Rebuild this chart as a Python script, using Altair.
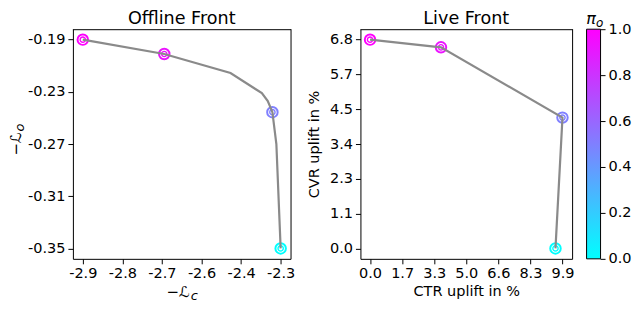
import json
import altair as alt
import pandas as pd

FONT = "DejaVu Sans"

# ---------------- data ----------------
# Offline front: full line path and the marked points
off_line_x = [-2.900, -2.653, -2.452, -2.357, -2.339, -2.325, -2.313, -2.300]
off_line_y = [-0.190, -0.201, -0.2156, -0.231, -0.237, -0.2456, -0.270, -0.350]
off_pts_x = [-2.900, -2.653, -2.325, -2.300]
off_pts_y = [-0.190, -0.201, -0.2456, -0.350]
pi_o = [1.0, 0.92, 0.5, 0.0]

# Live front
live_x = [0.0, 3.65, 9.90, 9.54]
live_y = [6.80, 6.55, 4.26, 0.00]

# tick positions and labels
off_xticks = [-2.90, -2.78, -2.66, -2.54, -2.42, -2.30]
off_xlabels = ["-2.9", "-2.8", "-2.7", "-2.6", "-2.4", "-2.3"]
off_yticks = [-0.35, -0.31, -0.27, -0.23, -0.19]
off_ylabels = ["-0.35", "-0.31", "-0.27", "-0.23", "-0.19"]
live_xticks = [0.0, 1.65, 3.3, 4.95, 6.6, 8.25, 9.9]
live_xlabels = ["0.0", "1.7", "3.3", "5.0", "6.6", "8.3", "9.9"]
live_yticks = [0.0, 1.1333, 2.2667, 3.4, 4.5333, 5.6667, 6.8]
live_ylabels = ["0.0", "1.1", "2.3", "3.4", "4.5", "5.7", "6.8"]
cb_ticks = [0.0, 0.2, 0.4, 0.6, 0.8, 1.0]
cb_labels = ["0.0", "0.2", "0.4", "0.6", "0.8", "1.0"]

titles = ["Offline Front", "Live Front"]
cb_title_main = "π"
cb_title_sub = "o"
live_xtitle = "CTR uplift in %"
live_ytitle = "CVR uplift in %"
off_title_main = "−ℒ"
off_xtitle_sub = "c"
off_ytitle_sub = "o"

# ---------------- layout ----------------
H = 230
WL, WR, WC = 218, 212, 14
LINE_COLOR = "#8a8a8a"
CMAP = ["#00ffff", "#ff00ff"]
TFS = 17.6  # title font size
LFS = 14.5  # label font size
TITLE_Y = -5

one = pd.DataFrame({"a": [0]})


def label_expr(vals, labels):
    start = vals[0]
    step = vals[1] - vals[0]
    return f"{json.dumps(labels)}[round((datum.value - ({start})) / ({step}))]"


def axis(vals, labels, title=None, **kw):
    return alt.Axis(values=vals, labelExpr=label_expr(vals, labels), title=title, **kw)


def text(t, x, y, size=TFS, **kw):
    return alt.Chart(one).mark_text(text=t, font=FONT, fontSize=size, color="black", **kw).encode(
        x=alt.value(x), y=alt.value(y))


def frame(w, h):
    top = alt.Chart(one).mark_rule(color="black", strokeWidth=1).encode(
        x=alt.value(0), x2=alt.value(w + 0.5), y=alt.value(0.5))
    right = alt.Chart(one).mark_rule(color="black", strokeWidth=1).encode(
        x=alt.value(w + 0.5), y=alt.value(0), y2=alt.value(h + 0.5))
    return [top, right]


color_enc = alt.Color("pi:Q", scale=alt.Scale(domain=[0, 1], range=CMAP, interpolate="rgb"), legend=None)

# ---------- offline panel ----------
off_line_df = pd.DataFrame({"x": off_line_x, "y": off_line_y, "k": list(range(len(off_line_x)))})
off_pts_df = pd.DataFrame({"x": off_pts_x, "y": off_pts_y, "pi": pi_o})

ox = alt.X("x:Q", scale=alt.Scale(domain=[-2.93, -2.27], nice=False, zero=False),
           axis=axis(off_xticks, off_xlabels))
oy = alt.Y("y:Q", scale=alt.Scale(domain=[-0.358, -0.182], nice=False, zero=False),
           axis=axis(off_yticks, off_ylabels))

off_outer = alt.Chart(off_pts_df).mark_point(shape="circle", filled=False, size=110, strokeWidth=2, opacity=1).encode(
    x=ox, y=oy, color=color_enc)
off_inner = alt.Chart(off_pts_df).mark_point(shape="circle", filled=False, size=28, strokeWidth=1.4, opacity=1).encode(
    x=ox, y=oy, color=color_enc)
off_ln = alt.Chart(off_line_df).mark_line(color=LINE_COLOR, strokeWidth=2.2).encode(x=ox, y=oy, order="k:Q")

off_texts = [
    text(titles[0], WL / 2, TITLE_Y, align="center", baseline="alphabetic"),
    text(off_title_main, WL / 2 + 8, H + 38, size=LFS + 0.5, align="right", baseline="alphabetic"),
    text(off_xtitle_sub, WL / 2 + 9, H + 41, size=13, fontStyle="italic", align="left", baseline="alphabetic"),
    text(off_title_main, -52, 0.55 * H, size=LFS + 0.5, align="left", angle=270, baseline="alphabetic"),
    text(off_ytitle_sub, -49, 0.55 * H - 24, size=13, fontStyle="italic", align="left", angle=270,
         baseline="alphabetic"),
]

offline = alt.layer(off_outer, off_inner, off_ln, *frame(WL, H), *off_texts).properties(width=WL, height=H)

# ---------- live panel ----------
live_df = pd.DataFrame({"x": live_x, "y": live_y, "pi": pi_o, "k": list(range(len(live_x)))})
lx = alt.X("x:Q", scale=alt.Scale(domain=[-0.495, 10.395], nice=False, zero=False),
           axis=axis(live_xticks, live_xlabels, live_xtitle, titlePadding=4))
ly = alt.Y("y:Q", scale=alt.Scale(domain=[-0.34, 7.14], nice=False, zero=False),
           axis=axis(live_yticks, live_ylabels, live_ytitle, titlePadding=8))

live_outer = alt.Chart(live_df).mark_point(shape="circle", filled=False, size=110, strokeWidth=2, opacity=1).encode(
    x=lx, y=ly, color=color_enc)
live_inner = alt.Chart(live_df).mark_point(shape="circle", filled=False, size=28, strokeWidth=1.4, opacity=1).encode(
    x=lx, y=ly, color=color_enc)
live_ln = alt.Chart(live_df).mark_line(color=LINE_COLOR, strokeWidth=2.2).encode(x=lx, y=ly, order="k:Q")

live = alt.layer(live_outer, live_inner, live_ln, *frame(WR, H),
                 text(titles[1], WR / 2, TITLE_Y, align="center", baseline="alphabetic")).properties(
    width=WR, height=H)

# ---------- colorbar ----------
cb_df = pd.DataFrame({"lo": [cb_ticks[0]], "hi": [cb_ticks[-1]]})
grad = alt.LinearGradient(gradient="linear",
                          stops=[alt.GradientStop(color=CMAP[0], offset=0), alt.GradientStop(color=CMAP[1], offset=1)],
                          x1=0, x2=0, y1=1, y2=0)
cb_rect = alt.Chart(cb_df).mark_rect(fill=grad, stroke="black", strokeWidth=1).encode(
    x=alt.value(0.5), x2=alt.value(WC + 0.5),
    y=alt.Y("lo:Q", scale=alt.Scale(domain=[0, 1], nice=False, zero=False),
            axis=axis(cb_ticks, cb_labels, orient="right", domain=False, labelPadding=3)),
    y2="hi:Q",
)
cb = alt.layer(
    cb_rect,
    text(cb_title_main, WC / 2 - 2, TITLE_Y, size=16, fontStyle="italic", align="center", baseline="alphabetic"),
    text(cb_title_sub, WC / 2 + 3, TITLE_Y + 3, size=12, fontStyle="italic", align="left", baseline="alphabetic"),
).properties(width=WC, height=H)

chart = alt.hconcat(
    offline,
    alt.hconcat(live, cb, spacing=12),
    spacing=10,
).properties(padding={"left": 0, "top": 2, "right": 0, "bottom": 0}).configure(
    font=FONT,
).configure_view(
    stroke=None,
).configure_axis(
    grid=False, domainColor="black", domainWidth=1, tickColor="black", tickSize=5, tickWidth=1,
    labelColor="black", labelFont=FONT, labelFontSize=LFS, labelPadding=3,
    titleFont=FONT, titleFontSize=LFS, titleFontWeight="normal", titleColor="black",
)

chart.save("out.html", embed_options={"renderer": "svg", "actions": False})
